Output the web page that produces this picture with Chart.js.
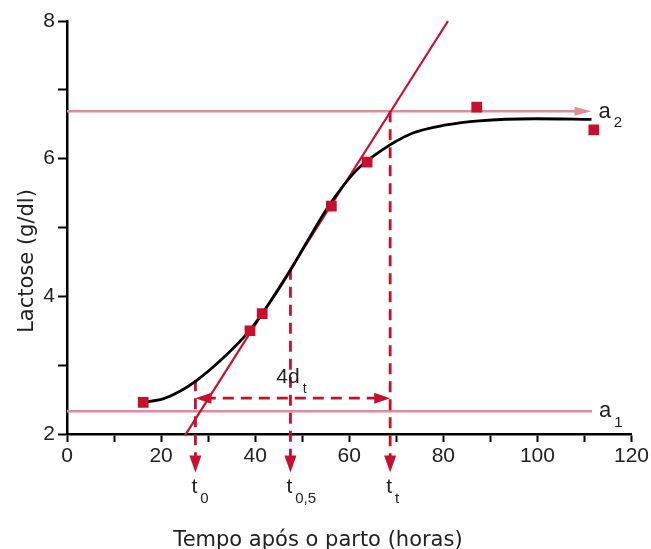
<!DOCTYPE html>
<html>
<head>
<meta charset="utf-8">
<script src="https://cdn.jsdelivr.net/npm/chart.js@4.4.1/dist/chart.umd.min.js"></script>
<style>
  html, body { margin: 0; padding: 0; background: #fff; }
  #wrap { width: 651px; height: 549px; }
</style>
</head>
<body>
<div id="wrap"><canvas id="chart"></canvas></div>
<script>
// fitted curve
const curveX = [16.2, 20.4, 24.0, 27.6, 32.5, 38.9, 43.0, 47.5, 51.0, 55.8, 61.5, 66.4, 73.4, 80.6, 87.6, 99.5, 111.5];
const curveY = [2.46, 2.51, 2.62, 2.78, 3.06, 3.51, 3.90, 4.38, 4.79, 5.33, 5.83, 6.10, 6.37, 6.49, 6.55, 6.58, 6.57];

// measured lactose values
const obsX = [16.2, 38.9, 41.5, 56.2, 63.8, 87.1, 112.0];
const obsY = [2.46, 3.50, 3.75, 5.31, 5.95, 6.75, 6.42];

// tangent at the inflection point
const tangentX = [25.1, 81.0];
const tangentY = [1.98, 8.0];

// asymptotes
const a1 = 2.33;
const a2 = 6.69;
const asymEndX = [111.6, 111.5];

// t0, t0.5, tt markers
const markerX = [27.3, 47.5, 68.7];
const markerTop = [2.78, 4.40, 6.69];
const markerBottom = 1.44;
const markerNames = ['0', '0,5', 't'];
const spanY = 2.52; // 4dt arrow

const RED = '#c8102e';
const PINK = '#e48a98';
const FONT = '"Liberation Sans", Arial, sans-serif';
const TITLE_FONT = '"DejaVu Sans", sans-serif';

function pts(xs, ys) {
  return xs.map((x, i) => ({ x: x, y: ys[i] }));
}

function head(ctx, tx, ty, dx, dy, len, half, color) {
  // filled arrow head, tip at (tx,ty), pointing along (dx,dy)
  const bx = tx - dx * len, by = ty - dy * len;
  ctx.beginPath();
  ctx.moveTo(tx, ty);
  ctx.lineTo(bx - dy * half, by + dx * half);
  ctx.lineTo(bx + dy * half, by - dx * half);
  ctx.closePath();
  ctx.fillStyle = color;
  ctx.fill();
}

function subText(ctx, main, sub, x, y, mainSize, subSize, dy) {
  ctx.font = mainSize + 'px ' + FONT;
  ctx.fillText(main, x, y);
  const w = ctx.measureText(main).width;
  ctx.font = subSize + 'px ' + FONT;
  ctx.fillText(sub, x + w + 3, y + dy);
}

const extras = {
  id: 'extras',
  afterDatasetsDraw(chart) {
    const { ctx, scales: { x, y } } = chart;
    ctx.save();

    // a2 arrow head
    head(ctx, x.getPixelForValue(asymEndX[1]), y.getPixelForValue(a2), 1, 0, 17, 4.5, PINK);

    // down arrows under the axis
    markerX.forEach(v => {
      head(ctx, x.getPixelForValue(v), y.getPixelForValue(markerBottom), 0, 1, 17, 6, RED);
    });

    // 4dt double arrow
    const yS = y.getPixelForValue(spanY);
    head(ctx, x.getPixelForValue(markerX[0]), yS, -1, 0, 16, 5.5, RED);
    head(ctx, x.getPixelForValue(markerX[2]), yS, 1, 0, 16, 5.5, RED);

    ctx.fillStyle = '#222';
    ctx.textAlign = 'left';
    ctx.textBaseline = 'alphabetic';

    // labels
    markerX.forEach((v, i) => {
      subText(ctx, 't', markerNames[i], x.getPixelForValue(v) - 4, 493, 21, 15, 10);
    });
    subText(ctx, '4d', 't', x.getPixelForValue(44.5), 383, 21, 14, 10);
    subText(ctx, 'a', '2', x.getPixelForValue(asymEndX[1]) + 7, y.getPixelForValue(a2) + 7, 22, 15, 9);
    subText(ctx, 'a', '1', x.getPixelForValue(asymEndX[0]) + 7, y.getPixelForValue(a1) + 6, 22, 15, 10);

    // axis titles
    ctx.font = '21px ' + TITLE_FONT;
    ctx.textAlign = 'center';
    ctx.fillText('Tempo após o parto (horas)', 318, 546);
    ctx.translate(33, 261);
    ctx.rotate(-Math.PI / 2);
    ctx.fillText('Lactose (g/dl)', 0, 0);

    ctx.restore();
  }
};

new Chart(document.getElementById('chart'), {
  type: 'scatter',
  data: {
    datasets: [
      {
        label: 'Observado',
        data: pts(obsX, obsY),
        pointStyle: 'rect',
        pointRadius: 7.6,
        backgroundColor: RED,
        borderColor: RED,
        borderWidth: 0
      },
      {
        label: 'Curva',
        data: pts(curveX, curveY),
        showLine: true,
        borderColor: '#000',
        borderWidth: 2.8,
        pointRadius: 0,
        cubicInterpolationMode: 'monotone'
      },
      {
        label: 'Tangente',
        data: pts(tangentX, tangentY),
        showLine: true,
        borderColor: RED,
        borderWidth: 2.2,
        pointRadius: 0,
        clip: false
      },
      ...markerX.map((v, i) => ({
        label: 'marker' + i,
        data: [{ x: v, y: markerTop[i] }, { x: v, y: markerBottom + 0.15 }],
        showLine: true,
        borderColor: RED,
        borderWidth: 2.8,
        borderDash: [11, 7],
        pointRadius: 0,
        clip: false
      })),
      {
        label: '4dt',
        data: [{ x: markerX[0] + 2, y: spanY }, { x: markerX[2] - 2, y: spanY }],
        showLine: true,
        borderColor: RED,
        borderWidth: 2.8,
        borderDash: [11, 7],
        pointRadius: 0
      },
      {
        label: 'a2',
        data: [{ x: 0, y: a2 }, { x: asymEndX[1] - 3, y: a2 }],
        showLine: true,
        borderColor: PINK,
        borderWidth: 2.5,
        pointRadius: 0
      },
      {
        label: 'a1',
        data: [{ x: 0, y: a1 }, { x: asymEndX[0], y: a1 }],
        showLine: true,
        borderColor: PINK,
        borderWidth: 2.5,
        pointRadius: 0
      }
    ]
  },
  options: {
    responsive: true,
    maintainAspectRatio: false,
    animation: false,
    layout: { padding: { left: 0, right: 18, top: 21, bottom: 0 } },
    plugins: {
      legend: { display: false },
      tooltip: { enabled: false }
    },
    scales: {
      x: {
        type: 'linear',
        min: 0,
        max: 120,
        afterFit: s => { s.height = 115; },
        border: { display: true, color: '#000', width: 2.5 },
        grid: { drawOnChartArea: false, drawTicks: true, tickLength: 8, tickWidth: 2, tickColor: '#000' },
        ticks: {
          stepSize: 10,
          autoSkip: false,
          maxRotation: 0,
          padding: 2,
          color: '#222',
          font: { family: FONT, size: 21 },
          callback: v => (v % 20 === 0 ? v : '')
        }
      },
      y: {
        type: 'linear',
        min: 2,
        max: 8,
        afterFit: s => { s.width = 67; },
        border: { display: true, color: '#000', width: 2.5 },
        grid: { drawOnChartArea: false, drawTicks: true, tickLength: 9, tickWidth: 2, tickColor: '#000' },
        ticks: {
          stepSize: 1,
          autoSkip: false,
          padding: 3,
          color: '#222',
          font: { family: FONT, size: 21 },
          callback: v => (v % 2 === 0 ? v : '')
        }
      }
    }
  },
  plugins: [extras]
});
</script>
</body>
</html>
